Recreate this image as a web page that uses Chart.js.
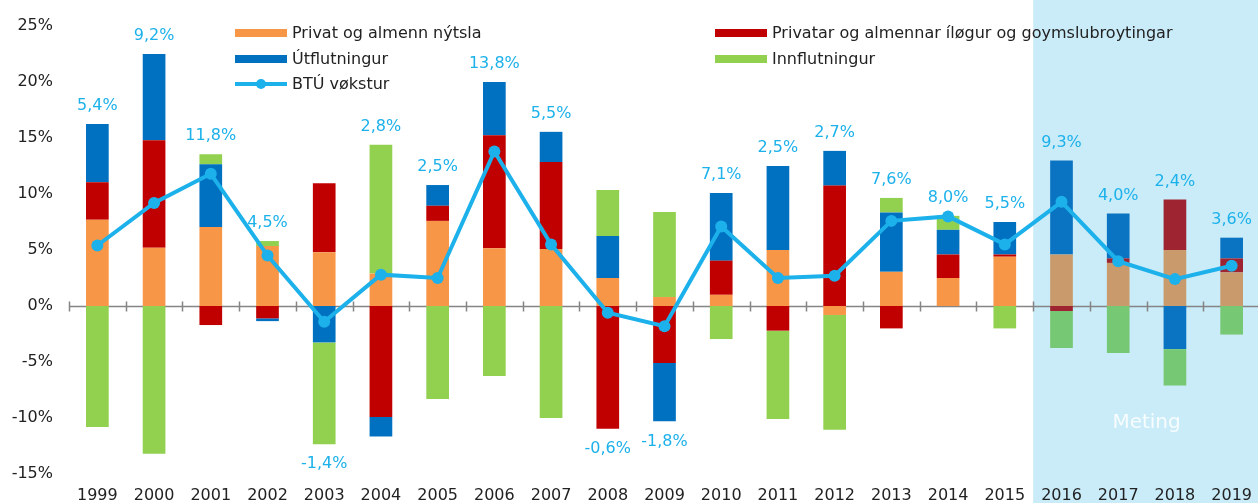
<!DOCTYPE html>
<html>
<head>
<meta charset="utf-8">
<title>BTÚ vøkstur</title>
<style>
  html, body { margin: 0; padding: 0; overflow: hidden; background: #fff; }
  #wrap { position: relative; width: 1266px; height: 503px; }
  #legend .item { position: absolute; height: 20px; line-height: 20px; font: 16px "DejaVu Sans", sans-serif; color: #222; white-space: nowrap; }
  #legend .sw { display: inline-block; position: relative; width: 52px; height: 20px; margin-right: 5px; vertical-align: top; }
  #legend .bar { position: absolute; left: 0; right: 0; top: 6px; height: 8px; }
  #legend .ln { position: absolute; left: 0; right: 0; top: 8px; height: 4px; }
  #legend .dot { position: absolute; left: 21px; top: 5px; width: 10px; height: 10px; border-radius: 50%; }
  #meting { position: absolute; font: 20px "DejaVu Sans", sans-serif; color: #fff; opacity: 0.85; transform: translate(-50%, -50%); }
</style>
<script src="https://cdn.jsdelivr.net/npm/chart.js@4.4.1/dist/chart.umd.min.js"></script>
</head>
<body>
<div id="wrap">
  <canvas id="chart" width="1266" height="503"></canvas>
  <div id="legend"></div>
  <div id="meting">Meting</div>
</div>
<script>
// data, in %
const years = ['1999','2000','2001','2002','2003','2004','2005','2006','2007','2008','2009',
               '2010','2011','2012','2013','2014','2015','2016','2017','2018','2019'];
const consumption = [7.7, 5.2, 7.05, 5.35, 4.8, 2.9, 7.6, 5.15, 5.1, 2.5, 0.8, 1.0, 5.0, -0.8, 3.05, 2.5, 4.4, 4.6, 3.85, 5.0, 3.0];
const investment  = [3.35, 9.6, -1.7, -1.1, 6.15, -9.9, 1.35, 10.1, 7.75, -10.95, -5.1, 3.05, -2.2, 10.75, -2.0, 2.1, 0.2, -0.45, 0.4, 4.5, 1.25];
const exports     = [5.2, 7.7, 5.6, -0.25, -3.25, -1.75, 1.85, 4.75, 2.7, 3.75, -5.2, 6.05, 7.5, 3.1, 5.3, 2.2, 2.9, 8.4, 4.0, -3.85, 1.85];
const imports     = [-10.8, -13.2, 0.9, 0.45, -9.1, 11.5, -8.3, -6.25, -10.0, 4.1, 7.6, -2.95, -7.9, -10.25, 1.3, 1.25, -2.0, -3.3, -4.2, -3.25, -2.55];
const growth      = [5.4, 9.2, 11.8, 4.5, -1.4, 2.8, 2.5, 13.8, 5.5, -0.6, -1.8, 7.1, 2.5, 2.7, 7.6, 8.0, 5.5, 9.3, 4.0, 2.4, 3.6];
const forecastFrom = '2016';

const firstForecast = years.indexOf(forecastFrom);
const lineColor = '#1CB1EA';

function colorsFor(normal, forecast) {
  return years.map((y, i) => i >= firstForecast ? forecast : normal);
}

function fmt(v) {
  return v.toFixed(1).replace('.', ',') + '%';
}

Chart.defaults.font.family = '"DejaVu Sans", sans-serif';
Chart.defaults.font.size = 16;
Chart.defaults.color = '#333';

// light blue band behind the forecast years
const forecastBand = {
  id: 'forecastBand',
  beforeDraw(chart) {
    const x = chart.scales.x;
    const x0 = (x.getPixelForValue(firstForecast - 1) + x.getPixelForValue(firstForecast)) / 2;
    const ctx = chart.ctx;
    ctx.save();
    ctx.fillStyle = '#CAECF9';
    ctx.fillRect(x0, 0, chart.width - x0, chart.height);
    ctx.restore();
  }
};

// zero line with tick marks between years
const zeroAxis = {
  id: 'zeroAxis',
  beforeDatasetsDraw(chart) {
    const { ctx, chartArea, scales: { x, y } } = chart;
    const y0 = Math.round(y.getPixelForValue(0)) + 0.5;
    const half = (x.getPixelForValue(1) - x.getPixelForValue(0)) / 2;
    ctx.save();
    ctx.strokeStyle = '#858585';
    ctx.lineWidth = 1.5;
    ctx.beginPath();
    ctx.moveTo(chartArea.left, y0);
    ctx.lineTo(chartArea.right, y0);
    for (let i = 0; i < years.length; i++) {
      const px = Math.round(x.getPixelForValue(i) - half) + 0.5;
      ctx.moveTo(px, y0 - 5);
      ctx.lineTo(px, y0 + 5);
    }
    ctx.stroke();
    ctx.restore();
  }
};

// growth labels above (or below) each stacked bar
const growthLabels = {
  id: 'growthLabels',
  afterDatasetsDraw(chart) {
    const { ctx, scales: { x, y } } = chart;
    const bars = [consumption, investment, exports, imports];
    ctx.save();
    ctx.fillStyle = lineColor;
    ctx.font = '16px "DejaVu Sans", sans-serif';
    ctx.textAlign = 'center';
    ctx.textBaseline = 'middle';
    growth.forEach((g, i) => {
      let pos = 0, neg = 0;
      bars.forEach(s => { if (s[i] >= 0) pos += s[i]; else neg += s[i]; });
      const px = x.getPixelForValue(i);
      let py;
      if (g >= 0) py = y.getPixelForValue(Math.max(pos, g)) - 18;
      else py = y.getPixelForValue(Math.min(neg, g)) + 20;
      ctx.fillText(fmt(g), px, py);
    });
    ctx.restore();
  }
};

const barOpts = { type: 'bar', order: 1, stack: 'bars', barPercentage: 0.4, categoryPercentage: 1.0, borderWidth: 0 };

const chart = new Chart(document.getElementById('chart'), {
  data: {
    labels: years,
    datasets: [
      Object.assign({ label: 'Privat og almenn nýtsla', data: consumption,
        backgroundColor: colorsFor('#F79646', '#C99A6B'), legendColor: '#F79646' }, barOpts),
      Object.assign({ label: 'Privatar og almennar íløgur og goymslubroytingar', data: investment,
        backgroundColor: colorsFor('#C00000', '#9E2431'), legendColor: '#C00000' }, barOpts),
      Object.assign({ label: 'Útflutningur', data: exports,
        backgroundColor: colorsFor('#0070C0', '#0A73C2'), legendColor: '#0070C0' }, barOpts),
      Object.assign({ label: 'Innflutningur', data: imports,
        backgroundColor: colorsFor('#92D050', '#77C874'), legendColor: '#92D050' }, barOpts),
      { type: 'line', label: 'BTÚ vøkstur', data: growth, order: 0, stack: 'line',
        borderColor: lineColor, backgroundColor: lineColor, borderWidth: 4, tension: 0,
        pointRadius: 6, pointBorderWidth: 0, pointBackgroundColor: lineColor, legendColor: lineColor }
    ]
  },
  options: {
    responsive: false,
    animation: false,
    layout: { padding: { top: 26, left: 0, right: 0, bottom: 0 } },
    plugins: { legend: { display: false }, tooltip: { enabled: false } },
    scales: {
      x: {
        stacked: true,
        grid: { display: false, drawTicks: false },
        border: { display: false },
        ticks: { padding: 12, color: '#222', maxRotation: 0, autoSkip: false },
        afterFit(s) { s.height = 29; }
      },
      y: {
        stacked: true,
        min: -15, max: 25,
        grid: { display: false, drawTicks: false },
        border: { display: false },
        ticks: { stepSize: 5, padding: 16, color: '#222', callback: v => v + '%' },
        afterFit(s) { s.width = 69; }
      }
    }
  },
  plugins: [forecastBand, zeroAxis, growthLabels]
});

// legend in two columns, laid over the top of the plot
const legend = document.getElementById('legend');
const legendCols = [235, 715];
const legendRows = [33, 59, 84];
chart.data.datasets.forEach((ds, k) => {
  const item = document.createElement('div');
  item.className = 'item';
  item.style.left = legendCols[k % 2] + 'px';
  item.style.top = (legendRows[Math.floor(k / 2)] - 10) + 'px';
  const sw = document.createElement('span');
  sw.className = 'sw';
  if (ds.type === 'line') {
    sw.innerHTML = '<span class="ln"></span><span class="dot"></span>';
    sw.children[0].style.background = ds.legendColor;
    sw.children[1].style.background = ds.legendColor;
  } else {
    sw.innerHTML = '<span class="bar"></span>';
    sw.children[0].style.background = ds.legendColor;
  }
  item.appendChild(sw);
  item.appendChild(document.createTextNode(ds.label));
  legend.appendChild(item);
});

// "Meting" label inside the forecast band
const xs = chart.scales.x, ys = chart.scales.y;
const meting = document.getElementById('meting');
meting.style.left = ((xs.getPixelForValue(18) + xs.getPixelForValue(19)) / 2) + 'px';
meting.style.top = ys.getPixelForValue(-10.3) + 'px';
</script>
</body>
</html>
